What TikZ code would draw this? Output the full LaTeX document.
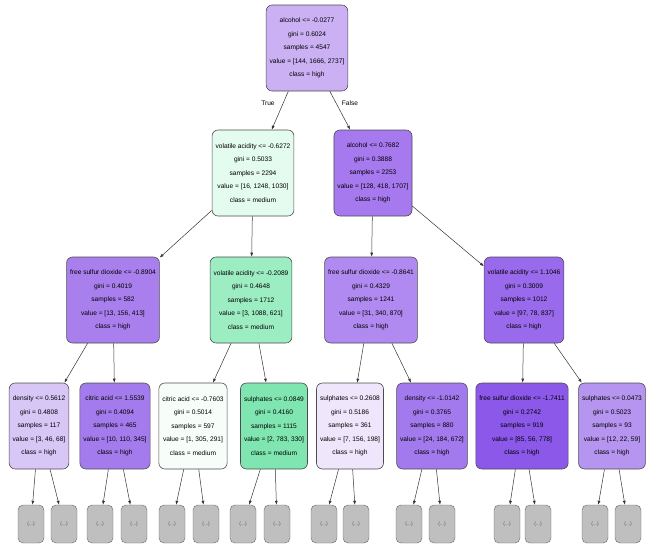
\documentclass[tikz,border=0pt]{standalone}
\usepackage{fontspec}
\setmainfont{Liberation Sans}
\usetikzlibrary{arrows.meta}
\definecolor{cRoot}{HTML}{CBB0F3}
\definecolor{cVol}{HTML}{E4FBEF}
\definecolor{cAlc}{HTML}{A779EF}
\definecolor{cFsdA}{HTML}{A97FEE}
\definecolor{cVolB}{HTML}{9DEDC3}
\definecolor{cFsdC}{HTML}{B08AF0}
\definecolor{cVolD}{HTML}{9A6AEC}
\definecolor{cDensA}{HTML}{D8C6F6}
\definecolor{cCitA}{HTML}{A47BED}
\definecolor{cCitB}{HTML}{F7FEFA}
\definecolor{cSulB}{HTML}{80E6B1}
\definecolor{cSulC}{HTML}{EFE6FC}
\definecolor{cDensC}{HTML}{A37AEE}
\definecolor{cFsdD}{HTML}{8C58EA}
\definecolor{cSulD}{HTML}{B695F1}
\tikzset{
  split/.style={draw=black!70, line width=0.6pt, rounded corners=6pt, align=center,
    font=\fontsize{6.6}{13.5}\selectfont, inner xsep=3.5pt, minimum height=86pt},
  leaf/.style={draw=black!60, fill=black!25, rounded corners=5pt, font=\fontsize{5}{6}\selectfont,
    text=black!65, minimum width=26pt, minimum height=38pt, inner sep=1pt},
  edge/.style={draw=black!80, line width=0.5pt, -{Latex[length=4pt,width=3pt]}}
}
\begin{document}
\begin{tikzpicture}[x=1pt,y=-1pt]
\useasboundingbox (0,0) rectangle (646,547);
%root
\node[split, fill=cRoot] (root) at (307,48) {alcohol <= -0.0277\\gini = 0.6024\\samples = 4547\\value = [144, 1666, 2737]\\class = high};
%depth 1
\node[split, fill=cVol] (vol) at (253,173) {volatile acidity <= -0.6272\\gini = 0.5033\\samples = 2294\\value = [16, 1248, 1030]\\class = medium};
\node[split, fill=cAlc] (alc) at (373,173) {alcohol <= 0.7682\\gini = 0.3888\\samples = 2253\\value = [128, 418, 1707]\\class = high};
%depth 2
\node[split, fill=cFsdA] (fsdA) at (113,300) {free sulfur dioxide <= -0.8904\\gini = 0.4019\\samples = 582\\value = [13, 156, 413]\\class = high};
\node[split, fill=cVolB] (volB) at (251,300) {volatile acidity <= -0.2089\\gini = 0.4648\\samples = 1712\\value = [3, 1088, 621]\\class = medium};
\node[split, fill=cFsdC] (fsdC) at (371,300) {free sulfur dioxide <= -0.8641\\gini = 0.4329\\samples = 1241\\value = [31, 340, 870]\\class = high};
\node[split, fill=cVolD] (volD) at (524,300) {volatile acidity <= 1.1046\\gini = 0.3009\\samples = 1012\\value = [97, 78, 837]\\class = high};
%depth 3
\node[split, fill=cDensA] (densA) at (39,426) {density <= 0.5612\\gini = 0.4808\\samples = 117\\value = [3, 46, 68]\\class = high};
\node[split, fill=cCitA] (citA) at (115,426) {citric acid <= 1.5539\\gini = 0.4094\\samples = 465\\value = [10, 110, 345]\\class = high};
\node[split, fill=cCitB] (citB) at (193,426) {citric acid <= -0.7603\\gini = 0.5014\\samples = 597\\value = [1, 305, 291]\\class = medium};
\node[split, fill=cSulB] (sulB) at (274,426) {sulphates <= 0.0849\\gini = 0.4160\\samples = 1115\\value = [2, 783, 330]\\class = medium};
\node[split, fill=cSulC] (sulC) at (350,426) {sulphates <= 0.2608\\gini = 0.5186\\samples = 361\\value = [7, 156, 198]\\class = high};
\node[split, fill=cDensC] (densC) at (432,426) {density <= -1.0142\\gini = 0.3765\\samples = 880\\value = [24, 184, 672]\\class = high};
\node[split, fill=cFsdD] (fsdD) at (522,426) {free sulfur dioxide <= -1.7411\\gini = 0.2742\\samples = 919\\value = [85, 56, 778]\\class = high};
\node[split, fill=cSulD] (sulD) at (612,426) {sulphates <= 0.0473\\gini = 0.5023\\samples = 93\\value = [12, 22, 59]\\class = high};
%edges
\draw[edge] (root) -- (vol);
\draw[edge] (root) -- (alc);
\node[font=\fontsize{6.6}{7}\selectfont] (true) at (268,103) {True};
\node[font=\fontsize{6.6}{7}\selectfont] (false) at (350,103) {False};
\foreach \a/\b in {vol/fsdA, vol/volB, alc/fsdC, alc/volD, fsdA/densA, fsdA/citA, volB/citB, volB/sulB,
  fsdC/sulC, fsdC/densC, volD/fsdD, volD/sulD}
  \draw[edge] (\a) -- (\b);
%truncated leaves
\foreach \p/\x [count=\i] in {densA/31, densA/64, citA/100, citA/134, citB/172, citB/206, sulB/243, sulB/277,
  sulC/324, sulC/356, densC/409, densC/442, fsdD/507, fsdD/538, sulD/595, sulD/628}{
  \node[leaf] (l\i) at (\x,524) {(...)};
  \draw[edge] (\p) -- (l\i);
}
\end{tikzpicture}
\end{document}
